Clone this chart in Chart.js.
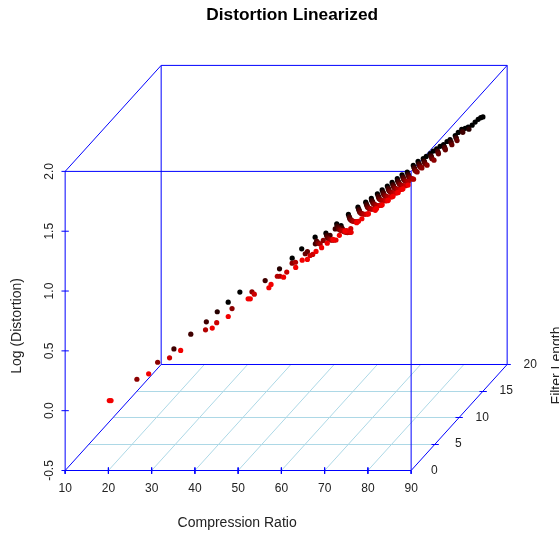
<!DOCTYPE html>
<html>
<head>
<meta charset="utf-8">
<title>Distortion Linearized</title>
<script src="https://cdn.jsdelivr.net/npm/chart.js@4"></script>
<style>
    html, body { margin: 0; padding: 0; background: #ffffff; overflow: hidden; }
    canvas { display: block; }
</style>
</head>
<body>
<canvas id="distortionChart" width="559" height="533"></canvas>
<script>
// Axis ticks
const ratioTicks = [10, 20, 30, 40, 50, 60, 70, 80, 90];
const logTicks = [-0.5, 0, 0.5, 1, 1.5, 2];
const filterTicks = [0, 5, 10, 15, 20];

// Points, one pair of lists per filter length
const filterLevels = [1, 2, 4, 6, 7, 9, 10, 12, 14, 15, 17, 20];

const ratioF1 = [19.1, 19.5, 28.2, 35.6, 42.9, 46.6, 51.2, 51.7, 56, 56.5, 59.4, 62.2, 63.7, 64.9, 66.9, 68.2, 69.5, 70.8, 72.3, 73.6, 76.3, 77.5, 79, 80.6, 80.9, 82.2, 83.6, 84.7, 85.9, 87, 88.2];
const logF1 = [0.04, 0.04, 0.264, 0.459, 0.646, 0.743, 0.891, 0.891, 0.983, 1.011, 1.072, 1.153, 1.214, 1.22, 1.287, 1.318, 1.356, 1.387, 1.421, 1.456, 1.527, 1.56, 1.602, 1.63, 1.645, 1.676, 1.715, 1.747, 1.78, 1.81, 1.841];

const ratioF2 = [70.4, 72.9, 73.9, 75.6, 77.8, 79.6, 80.9, 82.3, 83.4, 84.6, 85.7];
const logF2 = [1.338, 1.416, 1.402, 1.494, 1.555, 1.597, 1.628, 1.667, 1.699, 1.732, 1.762];

const ratioF4 = [29.7, 40.6, 49.3, 56.8, 62.2, 62.8, 67.8, 70.3, 71.3, 71.6, 73, 75.2, 77, 78.3, 79.7, 80.8, 82, 83.1, 84.3];
const logF4 = [0.265, 0.558, 0.797, 0.981, 1.12, 1.129, 1.248, 1.326, 1.312, 1.344, 1.404, 1.465, 1.507, 1.538, 1.577, 1.609, 1.642, 1.672, 1.703];

const ratioF6 = [35.8, 52.4, 53, 56.6, 65.1, 67.6, 68.6, 70.3, 72.5, 74.3, 75.6, 77, 78.1, 79.3, 80.4, 81.6, 82.7, 83.9];
const logF6 = [0.41, 0.858, 0.858, 0.975, 1.159, 1.237, 1.223, 1.315, 1.376, 1.418, 1.449, 1.488, 1.52, 1.553, 1.583, 1.614, 1.647, 1.669];

const ratioF7 = [61.2, 63.7, 66.2, 67.2, 68.9, 71.1, 72.9, 74.2, 75.6, 76.7, 77.9, 79, 80.2, 81.3, 82.5];
const logF7 = [1.083, 1.117, 1.195, 1.181, 1.273, 1.334, 1.376, 1.407, 1.446, 1.478, 1.511, 1.541, 1.572, 1.605, 1.627];

const ratioF9 = [16.6, 21.4, 38.6, 43.2, 52.5, 59.7, 61.2, 63.7, 64.7, 66.4, 68.6, 70.4, 71.7, 73.1, 74.2, 75.4, 76.5, 77.7, 78.8, 80, 81.4, 82.5, 83.7, 85.3];
const logF9 = [-0.136, 0.006, 0.455, 0.595, 0.834, 1.024, 1.031, 1.109, 1.095, 1.187, 1.248, 1.29, 1.321, 1.36, 1.392, 1.425, 1.455, 1.486, 1.519, 1.541, 1.597, 1.63, 1.653, 1.695];

const ratioF10 = [57.4, 59.9, 62.4, 63.4, 65.1, 67.3, 69.1, 70.4, 71.8, 72.9, 74.1, 75.2, 76.4, 77.5, 78.7, 80.1, 81.2];
const logF10 = [0.957, 0.991, 1.069, 1.055, 1.147, 1.208, 1.25, 1.281, 1.32, 1.352, 1.385, 1.415, 1.446, 1.479, 1.501, 1.557, 1.59];

const ratioF12 = [52.2, 52.7, 55.2, 57.4, 59.9, 60.9, 62.6, 64.8, 66.6, 67.9, 69.3, 70.4, 71.6, 72.7, 73.9, 75, 76.2, 77.6, 78.7, 79.9, 81.5, 83, 84.6, 86.1, 87.3];
const logF12 = [0.78, 0.799, 0.871, 0.91, 0.988, 0.974, 1.066, 1.127, 1.169, 1.2, 1.239, 1.271, 1.304, 1.334, 1.365, 1.398, 1.42, 1.476, 1.509, 1.532, 1.574, 1.615, 1.649, 1.691, 1.726];

const ratioF14 = [52.6, 55.1, 57.6, 58.6, 60.3, 62.5, 64.3, 65.6, 67, 68.1, 69.3, 70.4, 71.6, 72.7, 73.9, 75.3, 76.4, 77.6, 79.2, 80.7, 82.3];
const logF14 = [0.797, 0.831, 0.909, 0.895, 0.987, 1.048, 1.09, 1.121, 1.16, 1.192, 1.225, 1.255, 1.286, 1.319, 1.341, 1.397, 1.43, 1.453, 1.495, 1.536, 1.57];

const ratioF15 = [18.5, 22.4, 26, 39.6, 51.2, 53.9, 54.6, 55.8, 56.4, 57.4, 59.1, 61.3, 63.1, 64.4, 65.8, 66.9, 68.1, 69.2, 70.4, 71.5, 72.7, 74.1, 75.2, 76.4, 78, 79.5, 81.1, 82.6, 83.8, 85.3];
const logF15 = [-0.148, -0.025, 0.078, 0.423, 0.73, 0.795, 0.8, 0.855, 0.873, 0.859, 0.951, 1.012, 1.054, 1.085, 1.124, 1.156, 1.189, 1.219, 1.25, 1.283, 1.305, 1.361, 1.394, 1.417, 1.459, 1.5, 1.534, 1.576, 1.611, 1.662];

const ratioF17 = [26.3, 40.7, 51.6, 54, 55, 56.8, 59, 60.8, 62, 63.5, 64.6, 65.8, 66.9, 68, 69.2, 70.4, 71.8, 72.9, 74.1, 75.7, 77.2, 78.8, 80.3, 81.5, 83, 84.5];
const logF17 = [0.074, 0.433, 0.714, 0.792, 0.778, 0.87, 0.931, 0.973, 1.004, 1.043, 1.075, 1.108, 1.138, 1.169, 1.202, 1.224, 1.28, 1.313, 1.336, 1.378, 1.419, 1.453, 1.495, 1.53, 1.581, 1.6];

const ratioF20 = [25.5, 28.2, 40.3, 42.5, 45.6, 48.1, 50.6, 51.6, 53.3, 55.5, 57.3, 58.6, 60, 61.1, 62.3, 63.4, 64.6, 65.7, 66.9, 68.3, 69.4, 70.6, 71.3, 72.2, 72.9, 73.7, 74.5, 75.3, 76.1, 76.8, 78, 78.7, 79.5, 80.3, 81, 81.9, 82.6, 83.3, 83.9, 84.4];
const logF20 = [0.021, 0.105, 0.389, 0.467, 0.564, 0.598, 0.676, 0.662, 0.754, 0.815, 0.857, 0.888, 0.927, 0.959, 0.992, 1.022, 1.053, 1.086, 1.108, 1.164, 1.197, 1.22, 1.239, 1.262, 1.284, 1.303, 1.324, 1.337, 1.364, 1.379, 1.414, 1.44, 1.465, 1.474, 1.484, 1.5, 1.526, 1.549, 1.563, 1.569];

const ratioByFilter = [ratioF1, ratioF2, ratioF4, ratioF6, ratioF7, ratioF9, ratioF10, ratioF12, ratioF14, ratioF15, ratioF17, ratioF20];
const logByFilter = [logF1, logF2, logF4, logF6, logF7, logF9, logF10, logF12, logF14, logF15, logF17, logF20];

// Oblique projection: one filter unit moves a point this far in axis units
const DEPTH_X = 1.11;
const DEPTH_Y = 0.0443;

function project(ratio, filter, log) {
    return { x: ratio + filter * DEPTH_X, y: log + filter * DEPTH_Y };
}

// A path dataset with gaps, built from [[from, to], ...] segments
function segments(list) {
    const out = [];
    list.forEach(function(s) {
        out.push(s[0], s[1], { x: NaN, y: NaN });
    });
    return out;
}

function lineDataset(list, color) {
    return {
        data: segments(list),
        showLine: true,
        borderColor: color,
        borderWidth: 1,
        pointRadius: 0,
        clip: false,
        spanGaps: false
    };
}

const rMin = ratioTicks[0], rMax = ratioTicks[ratioTicks.length - 1];
const lMin = logTicks[0], lMax = logTicks[logTicks.length - 1];
const fMin = filterTicks[0], fMax = filterTicks[filterTicks.length - 1];

// Floor grid
const gridSegs = [];
ratioTicks.slice(1, -1).forEach(function(r) {
    gridSegs.push([project(r, fMin, lMin), project(r, fMax, lMin)]);
});
filterTicks.slice(1, -1).forEach(function(f) {
    // half a pixel down on 5 and 15 so these rows stay crisp
    const snap = f % 10 === 5 ? -0.0042 : 0;
    gridSegs.push([project(rMin, f, lMin + snap), project(rMax, f, lMin + snap)]);
});

// Box edges
const boxSegs = [
    [project(rMin, 0, lMin), project(rMax, 0, lMin)],
    [project(rMin, 0, lMax), project(rMax, 0, lMax)],
    [project(rMin, 0, lMin), project(rMin, 0, lMax)],
    [project(rMax, 0, lMin), project(rMax, 0, lMax)],
    [project(rMin, fMax, lMin), project(rMax, fMax, lMin)],
    [project(rMin, fMax, lMax), project(rMax, fMax, lMax)],
    [project(rMin, fMax, lMin), project(rMin, fMax, lMax)],
    [project(rMax, fMax, lMin), project(rMax, fMax, lMax)],
    [project(rMin, 0, lMin), project(rMin, fMax, lMin)],
    [project(rMax, 0, lMin), project(rMax, fMax, lMin)],
    [project(rMin, 0, lMax), project(rMin, fMax, lMax)],
    [project(rMax, 0, lMax), project(rMax, fMax, lMax)]
];

// Tick marks
ratioTicks.forEach(function(r) {
    const up = (r === rMin || r === rMax) ? 0 : 0.025;
    boxSegs.push([project(r, 0, lMin + up), project(r, 0, lMin - 0.028)]);
});
logTicks.forEach(function(l) {
    const inner = (l === lMin || l === lMax) ? 0.2 : 0.85;
    boxSegs.push([project(rMin - 0.85, 0, l), project(rMin + inner, 0, l)]);
});
filterTicks.slice(1, -1).forEach(function(f) {
    const snap = f % 10 === 5 ? -0.0042 : 0;
    boxSegs.push([project(rMax - 0.85, f, lMin + snap), project(rMax + 0.85, f, lMin + snap)]);
});
boxSegs.push([project(rMax, fMax, lMin), project(rMax + 0.85, fMax, lMin)]);

const pointDatasets = filterLevels.map(function(f, i) {
    const shade = Math.round(255 * (1 - f / fMax));
    return {
        data: ratioByFilter[i].map(function(r, j) { return project(r, f, logByFilter[i][j]); }),
        backgroundColor: 'rgb(' + shade + ',0,0)',
        borderWidth: 0,
        pointRadius: 2.6,
        clip: false
    };
});

// Labels the cartesian axes can't place on an oblique box
const boxLabels = {
    id: 'boxLabels',
    afterDraw: function(chart) {
        const c = chart.ctx, xs = chart.scales.x, ys = chart.scales.y;
        c.save();
        c.fillStyle = '#222222';

        c.font = "12px 'Liberation Sans'";
        c.textAlign = 'center';
        c.textBaseline = 'middle';
        logTicks.forEach(function(l) {
            c.save();
            c.translate(xs.getPixelForValue(rMin) - 16, ys.getPixelForValue(l));
            c.rotate(-Math.PI / 2);
            c.fillText(l.toFixed(1), 0, 1);
            c.restore();
        });
        filterTicks.forEach(function(f) {
            const p = project(rMax + 5.35, f, lMin);
            c.fillText(String(f), xs.getPixelForValue(p.x), ys.getPixelForValue(p.y));
        });

        c.font = "14px 'Liberation Sans'";
        c.textBaseline = 'alphabetic';
        c.fillText('Compression Ratio', xs.getPixelForValue((rMin + rMax) / 2) - 1, 527);

        c.save();
        c.translate(21, ys.getPixelForValue((lMin + lMax) / 2) + 5);
        c.rotate(-Math.PI / 2);
        c.fillText('Log (Distortion)', 0, 0);
        c.restore();

        const back = project(rMax, fMax, lMin);
        c.save();
        c.translate(561, ys.getPixelForValue(back.y) + 1);
        c.rotate(-Math.PI / 2);
        c.fillText('Filter Length', 0, 0);
        c.restore();

        c.restore();
    }
};

new Chart(document.getElementById('distortionChart'), {
    type: 'scatter',
    data: {
        datasets: pointDatasets.concat([
            lineDataset(boxSegs, '#0000ff'),
            lineDataset(gridSegs, '#add8e6')
        ])
    },
    options: {
        responsive: false,
        animation: false,
        events: [],
        layout: { padding: { left: 65.15, right: 39.75, top: 0, bottom: 0 } },
        plugins: {
            legend: { display: false },
            tooltip: { enabled: false },
            title: {
                display: true,
                text: 'Distortion Linearized',
                fullSize: false,
                color: '#000000',
                font: { family: "'Liberation Sans'", size: 17.3, weight: 'bold' },
                padding: { top: 5, bottom: 26 }
            }
        },
        scales: {
            x: {
                type: 'linear',
                min: 10,
                max: 115,
                grid: { display: false },
                border: { display: false },
                afterBuildTicks: function(scale) {
                    scale.ticks = ratioTicks.map(function(v) { return { value: v }; });
                },
                afterFit: function(scale) { scale.height = 62.5; },
                ticks: {
                    autoSkip: false,
                    maxRotation: 0,
                    padding: 3,
                    color: '#222222',
                    font: { family: "'Liberation Sans'", size: 12 }
                }
            },
            y: {
                type: 'linear',
                display: false,
                min: -0.5,
                max: 3
            }
        }
    },
    plugins: [boxLabels]
});
</script>
</body>
</html>
